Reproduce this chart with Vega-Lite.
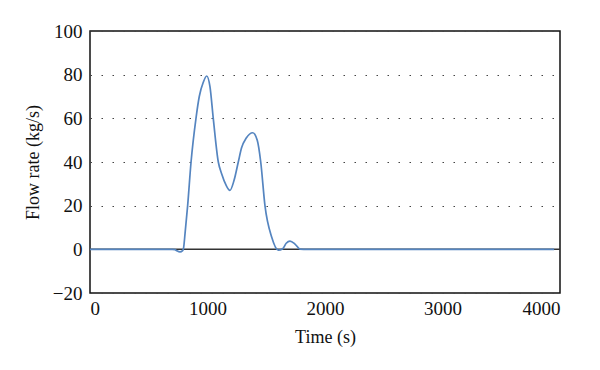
{
  "$schema": "https://vega.github.io/schema/vega-lite/v6.json",
  "autosize": "none",
  "width": 470,
  "height": 262,
  "padding": {"left": 90, "top": 31, "right": 40, "bottom": 77},
  "background": "white",
  "config": {
    "font": "Liberation Serif",
    "view": {"stroke": "#111", "strokeWidth": 1.5},
    "axis": {"labelFont": "Liberation Serif", "titleFont": "Liberation Serif", "labelFontSize": 19, "titleFontSize": 18, "labelColor": "#111", "titleColor": "#111", "titleFontWeight": "normal", "domain": false, "ticks": false}
  },
  "datasets": {
    "flow": [
      {"t": 0, "v": 0},
      {"t": 700, "v": 0},
      {"t": 723, "v": -0.1},
      {"t": 740, "v": -0.7},
      {"t": 766, "v": -1.2},
      {"t": 788, "v": -0.6},
      {"t": 796, "v": 0.5},
      {"t": 809, "v": 7.3},
      {"t": 831, "v": 20},
      {"t": 860, "v": 40},
      {"t": 902, "v": 60},
      {"t": 930, "v": 70},
      {"t": 964, "v": 76.5},
      {"t": 993, "v": 79.4},
      {"t": 1021, "v": 74.5},
      {"t": 1049, "v": 60},
      {"t": 1092, "v": 40},
      {"t": 1121, "v": 34.5},
      {"t": 1157, "v": 29.5},
      {"t": 1191, "v": 27},
      {"t": 1226, "v": 31.6},
      {"t": 1262, "v": 40},
      {"t": 1290, "v": 46.5},
      {"t": 1330, "v": 51},
      {"t": 1385, "v": 53.4},
      {"t": 1424, "v": 49.8},
      {"t": 1453, "v": 40},
      {"t": 1489, "v": 20},
      {"t": 1546, "v": 5.6},
      {"t": 1602, "v": -0.4},
      {"t": 1640, "v": 0.3},
      {"t": 1670, "v": 2.8},
      {"t": 1702, "v": 3.8},
      {"t": 1745, "v": 2.4},
      {"t": 1787, "v": 0.1},
      {"t": 1850, "v": 0},
      {"t": 3950, "v": 0}
    ],
    "zero": [{"z": 0}]
  },
  "layer": [
    {
      "data": {"name": "zero"},
      "mark": {"type": "rule", "color": "#333", "strokeWidth": 1.5},
      "encoding": {"y": {"field": "z", "type": "quantitative", "scale": {"domain": [-20, 100]}}}
    },
    {
      "data": {"name": "flow"},
      "mark": {"type": "line", "color": "#5585c0", "strokeWidth": 1.7, "interpolate": "monotone"},
      "encoding": {
        "x": {"field": "t", "type": "quantitative", "title": "Time (s)", "scale": {"domain": [0, 4000], "nice": false, "zero": false}, "axis": {"values": [0, 1000, 2000, 3000, 4000], "format": "d", "grid": false, "labelPadding": 6, "titlePadding": 10}},
        "y": {"field": "v", "type": "quantitative", "title": "Flow rate (kg/s)", "scale": {"domain": [-20, 100], "nice": false}, "axis": {"values": [-20, 0, 20, 40, 60, 80, 100], "format": "d", "grid": true, "gridColor": "#444", "gridDash": [1.5, 9.5], "gridWidth": 1.2, "labelPadding": 8, "titlePadding": 10}}
      }
    }
  ]
}
